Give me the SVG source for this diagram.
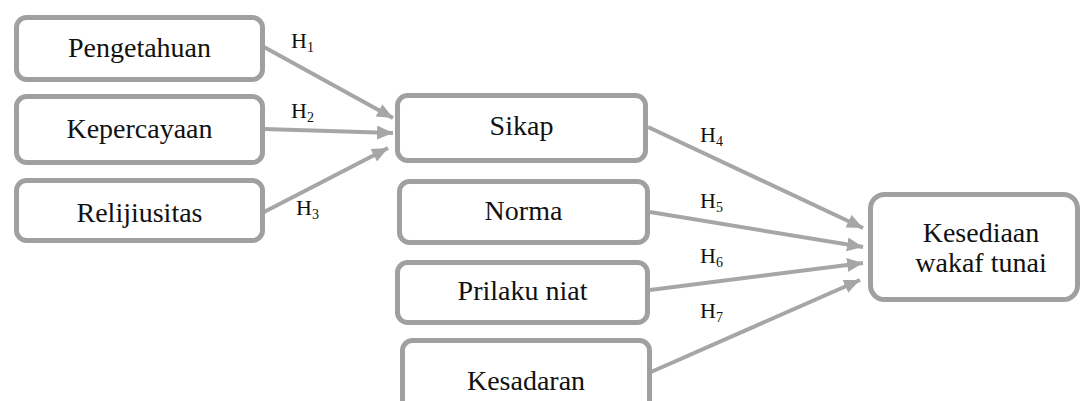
<svg xmlns="http://www.w3.org/2000/svg" width="1081" height="401" viewBox="0 0 1081 401">
<style>
.box{fill:#fff;stroke:#a0a0a0;stroke-width:5}
.lbl{font-family:'Liberation Serif','Times New Roman',Tinos,'DejaVu Serif',serif;font-size:28px;fill:#111;text-anchor:middle}
.h{font-family:'Liberation Serif','Times New Roman',Tinos,'DejaVu Serif',serif;font-size:22px;fill:#111}
.sub{font-size:14px}
.conn{stroke:#a6a6a6;stroke-width:4;fill:none;marker-end:url(#arr)}
</style>
<defs>
<marker id="arr" markerUnits="userSpaceOnUse" markerWidth="17" markerHeight="15" refX="16" refY="7" orient="auto">
<path d="M0,0 L16,7 L0,14 z" fill="#a6a6a6"/>
</marker>
</defs>
<rect width="1081" height="401" fill="#fff"/>
<g id="connectors">
<line class="conn" x1="264" y1="47" x2="393" y2="118"/>
<line class="conn" x1="264" y1="129" x2="393" y2="133"/>
<line class="conn" x1="264" y1="212" x2="388" y2="148"/>
<line class="conn" x1="648" y1="127" x2="863" y2="228"/>
<line class="conn" x1="650" y1="212" x2="863" y2="247"/>
<line class="conn" x1="650" y1="290" x2="863" y2="263"/>
<line class="conn" x1="651" y1="372" x2="860" y2="280"/>
</g>
<g id="hlabels">
<text class="h" x="291" y="48">H<tspan class="sub" dy="4">1</tspan></text>
<text class="h" x="291" y="118">H<tspan class="sub" dy="4">2</tspan></text>
<text class="h" x="296" y="215">H<tspan class="sub" dy="4">3</tspan></text>
<text class="h" x="700" y="142">H<tspan class="sub" dy="4">4</tspan></text>
<text class="h" x="700" y="208">H<tspan class="sub" dy="4">5</tspan></text>
<text class="h" x="700" y="263">H<tspan class="sub" dy="4">6</tspan></text>
<text class="h" x="700" y="318">H<tspan class="sub" dy="4">7</tspan></text>
</g>
<g id="pengetahuan">
<rect class="box" x="16.5" y="17.5" width="246" height="62" rx="10"/>
<text class="lbl" x="139.5" y="57">Pengetahuan</text>
</g>
<g id="kepercayaan">
<rect class="box" x="16.5" y="96.5" width="246" height="66" rx="10"/>
<text class="lbl" x="139.5" y="138">Kepercayaan</text>
</g>
<g id="relijiusitas">
<rect class="box" x="16.5" y="180.5" width="246" height="60" rx="10"/>
<text class="lbl" x="139.5" y="222">Relijiusitas</text>
</g>
<g id="sikap">
<rect class="box" x="397.5" y="95.5" width="248" height="65" rx="10"/>
<text class="lbl" x="521.5" y="135">Sikap</text>
</g>
<g id="norma">
<rect class="box" x="399.5" y="181.5" width="248" height="61" rx="10"/>
<text class="lbl" x="523.5" y="220">Norma</text>
</g>
<g id="prilaku">
<rect class="box" x="397.5" y="262.5" width="250" height="60" rx="10"/>
<text class="lbl" x="522.5" y="300">Prilaku niat</text>
</g>
<g id="kesadaran">
<rect class="box" x="402.5" y="340.5" width="247" height="70" rx="10"/>
<text class="lbl" x="526" y="390">Kesadaran</text>
</g>
<g id="kesediaan">
<rect class="box" x="870.5" y="194.5" width="207" height="105" rx="14"/>
<text class="lbl" x="981" y="242">Kesediaan</text>
<text class="lbl" x="981" y="272">wakaf tunai</text>
</g>
</svg>
